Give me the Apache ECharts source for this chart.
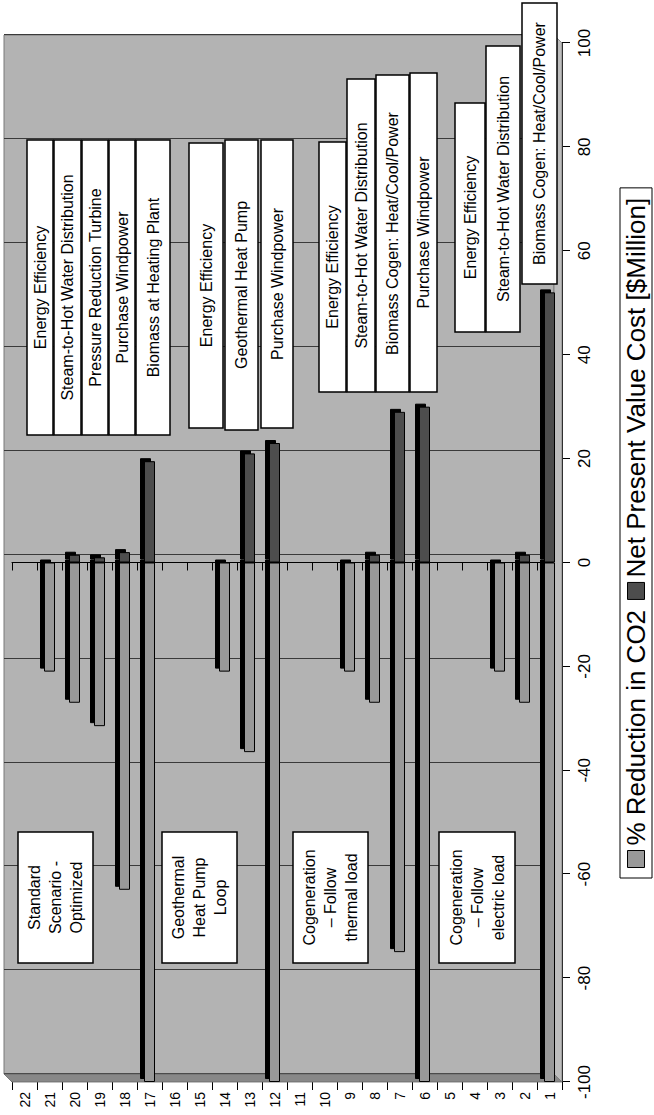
<!DOCTYPE html>
<html>
<head>
<meta charset="utf-8">
<script src="https://cdn.jsdelivr.net/npm/echarts@6/dist/echarts.min.js"></script>
<style>
html,body{margin:0;padding:0;width:654px;height:1115px;overflow:hidden;background:#fff;}
#wrap{position:absolute;left:0;top:0;width:1115px;height:654px;transform-origin:0 0;transform:translate(0,1115px) rotate(-90deg);}
</style>
</head>
<body>
<div id="wrap"></div>
<script>
// ---- data ----
const categories = ['1','2','3','4','5','6','7','8','9','10','11','12','13','14','15','16','17','18','19','20','21','22'];
const co2Reduction = [-100,-27,-21,null,null,-100,-75,-27,-21,null,null,-100,-36.5,-21,null,null,-100,-63,-31.5,-27,-21,null];
const npvCost      = [52,1.5,0,null,null,30,29,1.5,0,null,null,23,21,0,null,null,19.5,2,1,1.5,0,null];
const valueTicks = {min:-100, max:100, step:20};
const seriesNames = ['% Reduction in CO2', 'Net Present Value Cost [$Million]'];
const scenarioNames = ['Standard\nScenario -\nOptimized', 'Geothermal\nHeat Pump\nLoop', 'Cogeneration\n\u2013 Follow\nthermal load', 'Cogeneration\n\u2013 Follow\nelectric load'];
const stepsStandard = ['Energy Efficiency','Steam-to-Hot Water Distribution','Pressure Reduction Turbine','Purchase Windpower','Biomass at Heating Plant'];
const stepsGeothermal = ['Energy Efficiency','Geothermal Heat Pump','Purchase Windpower'];
const stepsCogenThermal = ['Energy Efficiency','Steam-to-Hot Water Distribution','Biomass Cogen: Heat/Cool/Power','Purchase Windpower'];
const stepsCogenElectric = ['Energy Efficiency','Steam-to-Hot Water Distribution','Biomass Cogen: Heat/Cool/Power'];

// ---- layout (unrotated frame) ----
const FONT = '"Liberation Sans", Arial, sans-serif';
const stepBoxes = [
  {texts: stepsStandard, rows: [[27,53,680,975],[54,81,680,975],[82,108,680,975],[109,135,680,975],[136,170,680,975]]},
  {texts: stepsGeothermal, rows: [[189,223,687,972],[225,258,685,975],[261,293,687,975]]},
  {texts: stepsCogenThermal, rows: [[319,346,723,973],[347,375,723,1036],[376,409,723,1040],[410,437,723,1042]]},
  {texts: stepsCogenElectric, rows: [[455,485,783,1012],[486,520,783,1069],[522,557,831,1112]]}
];
const scenarioRows = [[18,93],[162,237],[293,368],[439,515]];

function box(y1, y2, x1, x2, text, lh) {
  return [
    {type:'rect', z:100, shape:{x:x1, y:y1, width:x2-x1, height:y2-y1},
     style:{fill:'#fff', stroke:'#000', lineWidth:1.5}},
    {type:'text', z:101, x:(x1+x2)/2, y:(y1+y2)/2,
     style:{text:text, x:0, y:0, font:'16px ' + FONT, fill:'#000',
            align:'center', verticalAlign:'middle', textAlign:'center', textVerticalAlign:'middle', lineHeight: lh || 18}}
  ];
}
const graphics = [
  // floor / side depth faces
  {type:'polygon', z:1, shape:{points:[[33,12],[41,4],[41,554],[33,562]]}, style:{fill:'#888888', stroke:'#666', lineWidth:0.8}},
  {type:'polygon', z:1, shape:{points:[[33,562],[41,554],[1080,554],[1072,562]]}, style:{fill:'#bdbdbd', stroke:'#777', lineWidth:0.8}}
];
stepBoxes.forEach(g => g.rows.forEach((r, i) => graphics.push(...box(r[0], r[1], r[2], r[3], g.texts[i]))));
scenarioRows.forEach((r, i) => graphics.push(...box(r[0], r[1], 152, 283, scenarioNames[i], 21)));

const barShadow = {borderColor:'#000', borderWidth:1, shadowColor:'#000', shadowBlur:0, shadowOffsetX:3, shadowOffsetY:-4};

const chart = echarts.init(document.getElementById('wrap'), null, {renderer:'svg', width:1115, height:654});
chart.setOption({
  animation:false,
  textStyle:{fontFamily:FONT},
  grid:[
    {left:33, right:43, top:12, bottom:92, containLabel:false},
    {left:41, right:35, top:4, bottom:100, show:true, backgroundColor:'#b3b3b3', borderColor:'#7a7a7a', borderWidth:1, z:0}
  ],
  legend:{
    data:seriesNames, left:237, top:620, orient:'horizontal',
    icon:'rect', itemWidth:17, itemHeight:17, itemGap:10,
    padding:[3,10], borderColor:'#000', borderWidth:1, backgroundColor:'#fff',
    textStyle:{fontSize:26, color:'#000', fontFamily:FONT},
    itemStyle:{borderColor:'#000', borderWidth:1, shadowBlur:0, shadowColor:'transparent', shadowOffsetX:0, shadowOffsetY:0}
  },
  xAxis:[
    {type:'value', gridIndex:0, min:valueTicks.min, max:valueTicks.max, interval:valueTicks.step, position:'bottom',
     axisLine:{show:true, onZero:false, lineStyle:{color:'#000', width:1}},
     axisTick:{show:true, length:8, lineStyle:{color:'#000'}},
     axisLabel:{fontSize:17, margin:14, color:'#000', fontFamily:FONT},
     splitLine:{show:false}},
    {type:'value', gridIndex:1, min:valueTicks.min, max:valueTicks.max, interval:valueTicks.step,
     axisLine:{show:false}, axisTick:{show:false}, axisLabel:{show:false},
     splitLine:{show:true, lineStyle:{color:'#3a3a3a', width:1}}}
  ],
  yAxis:[
    {type:'category', gridIndex:0, data:categories, position:'left',
     axisLine:{show:true, onZero:false, lineStyle:{color:'#000'}},
     axisTick:{show:true, length:8, interval:0, lineStyle:{color:'#000'}},
     axisLabel:{fontSize:14, margin:10, color:'#000', interval:0, fontFamily:FONT}},
    {type:'category', gridIndex:0, data:categories, position:'left',
     axisLine:{show:true, onZero:true, onZeroAxisIndex:0, lineStyle:{color:'#000'}},
     axisTick:{show:true, length:8, interval:0, lineStyle:{color:'#000'}},
     axisLabel:{show:false}, splitLine:{show:false}},
    {type:'category', gridIndex:1, data:categories, show:false}
  ],
  series:[
    {name:seriesNames[0], type:'bar', xAxisIndex:0, yAxisIndex:0, data:co2Reduction, barWidth:11, barGap:'-100%',
     itemStyle:Object.assign({color:'#999999'}, barShadow)},
    {name:seriesNames[1], type:'bar', xAxisIndex:0, yAxisIndex:0, data:npvCost, barWidth:11, barGap:'-100%',
     itemStyle:Object.assign({color:'#4d4d4d'}, barShadow)}
  ],
  graphic:{elements:graphics}
});
</script>
</body>
</html>
